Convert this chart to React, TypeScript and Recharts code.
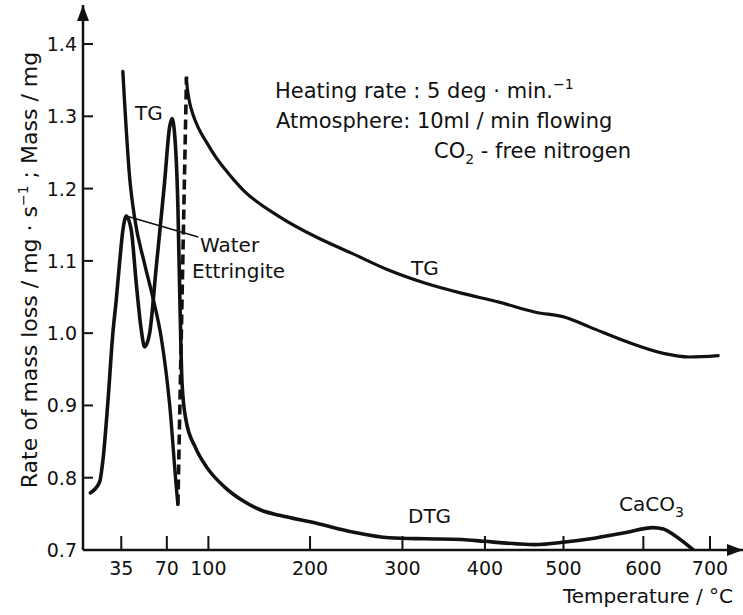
import { LineChart, Line, XAxis, YAxis, ReferenceLine } from "recharts";

// The temperature axis of the original figure is not linear, so every
// temperature is placed through this table (axis units: 0..1000 = whole axis).
const AXIS_TEMPS = [20, 35, 70, 100, 200, 300, 400, 500, 600, 700];
const AXIS_UNITS = [0, 58, 127, 190, 344, 484, 609, 728, 849, 950];

const X_TICKS = [35, 70, 100, 200, 300, 400, 500, 600, 700];
const Y_TICKS = [0.7, 0.8, 0.9, 1.0, 1.1, 1.2, 1.3, 1.4];

// DTG, rate of mass loss
const DTG_T = [22.9, 26.5, 27.8, 29.8, 31.7, 33.0, 34.3, 36.2, 38.8, 42.7, 46.5, 50.4, 52.9, 56.7, 61.9, 68.2, 72.0, 73.7, 75.6, 78.0, 79.6, 81.0, 83.9, 90.6, 98.6, 116, 134, 152, 170, 207, 246, 286, 328, 372, 399, 441, 464, 502, 534, 580, 614, 630, 647, 675];
const DTG_V = [0.779, 0.794, 0.824, 0.907, 1.0, 1.045, 1.096, 1.142, 1.162, 1.142, 1.069, 1.004, 0.981, 0.999, 1.092, 1.207, 1.285, 1.297, 1.276, 1.175, 1.03, 0.93, 0.879, 0.842, 0.815, 0.787, 0.768, 0.755, 0.748, 0.737, 0.725, 0.717, 0.7155, 0.7145, 0.712, 0.7085, 0.7075, 0.711, 0.7155, 0.7245, 0.731, 0.729, 0.72, 0.7];

// TG, first (steep) part
const TG_LOW_T = [36.2, 41.4, 45.2, 52.9, 59.3, 65.7, 72.0, 77.3, 78.0];
const TG_LOW_V = [1.362, 1.216, 1.16, 1.096, 1.049, 0.994, 0.902, 0.777, 0.763];

// dashed connector between the two TG parts
const TG_JOIN_T = [78.0, 84.2];
const TG_JOIN_V = [0.763, 1.355];

// TG, main curve
const TG_T = [84.0, 85.1, 86.6, 88.8, 92.5, 98.7, 106.6, 116.2, 134.2, 170.1, 206.7, 246.1, 285.5, 328.1, 372.5, 417.9, 464.5, 501.8, 533.8, 579.5, 630.1, 668.5, 712.3];
const TG_V = [1.352, 1.334, 1.318, 1.303, 1.285, 1.264, 1.245, 1.227, 1.198, 1.161, 1.133, 1.11, 1.087, 1.069, 1.055, 1.043, 1.029, 1.022, 1.008, 0.988, 0.972, 0.967, 0.969];

const INK = "#111";
const FONT = "'DejaVu Sans', sans-serif";

function toAxis(t: number) {
  let i = 0;
  while (i < AXIS_TEMPS.length - 2 && t > AXIS_TEMPS[i + 1]) i++;
  const t0 = AXIS_TEMPS[i];
  const t1 = AXIS_TEMPS[i + 1];
  const u0 = AXIS_UNITS[i];
  const u1 = AXIS_UNITS[i + 1];
  return u0 + ((t - t0) * (u1 - u0)) / (t1 - t0);
}

const toPoints = (ts: number[], vs: number[]) =>
  ts.map((t, i) => ({ x: toAxis(t), v: vs[i] }));

const dtg = toPoints(DTG_T, DTG_V);
const tgLow = toPoints(TG_LOW_T, TG_LOW_V);
const tgJoin = toPoints(TG_JOIN_T, TG_JOIN_V);
const tg = toPoints(TG_T, TG_V);

const XTick = (props: any) => {
  const { x, y, index } = props;
  return (
    <g>
      <line x1={x} y1={y} x2={x} y2={y - 14} stroke={INK} strokeWidth={2} />
      <text x={x} y={y + 25} textAnchor="middle" fontSize={19} fill={INK} fontFamily={FONT}>
        {X_TICKS[index]}
      </text>
    </g>
  );
};

const YTick = (props: any) => {
  const { x, y, payload } = props;
  return (
    <g>
      <line x1={x} y1={y} x2={x + 10} y2={y} stroke={INK} strokeWidth={2} />
      <text x={x - 6} y={y + 7} textAnchor="end" fontSize={19} fill={INK} fontFamily={FONT}>
        {Number(payload.value).toFixed(1)}
      </text>
    </g>
  );
};

const txt = { fill: INK, fontFamily: FONT, fontSize: 21 };

export default function App() {
  return (
    <div style={{ position: "absolute", left: 0, top: 0, width: 743, height: 615, background: "#fff" }}>
      <LineChart width={743} height={615} margin={{ top: 5, right: 0, left: 0, bottom: 0 }}>
        <defs>
          <marker
            id="axisArrow"
            viewBox="0 0 16 12"
            refX={16}
            refY={6}
            markerWidth={16}
            markerHeight={12}
            markerUnits="userSpaceOnUse"
            orient="auto-start-reverse"
          >
            <path d="M0,0 L16,6 L0,12 z" fill={INK} />
          </marker>
        </defs>
        <XAxis
          dataKey="x"
          type="number"
          domain={[0, 1000]}
          allowDataOverflow
          ticks={X_TICKS.map(toAxis)}
          interval={0}
          height={65}
          tickSize={0}
          tickMargin={0}
          tickLine={false}
          tick={XTick}
          axisLine={{ stroke: INK, strokeWidth: 2.5, markerEnd: "url(#axisArrow)" }}
        />
        <YAxis
          dataKey="v"
          type="number"
          domain={[0.7, 1.454]}
          allowDataOverflow
          ticks={Y_TICKS}
          interval={0}
          width={83}
          tickSize={0}
          tickMargin={0}
          tickLine={false}
          tick={YTick}
          axisLine={{ stroke: INK, strokeWidth: 2.5, markerStart: "url(#axisArrow)" }}
        />
        <ReferenceLine
          segment={[
            { x: toAxis(38.8), y: 1.162 },
            { x: toAxis(92.7), y: 1.133 },
          ]}
          stroke={INK}
          strokeWidth={1.6}
          ifOverflow="visible"
        />
        <Line data={dtg} dataKey="v" type="monotone" stroke={INK} strokeWidth={3.6} dot={false} isAnimationActive={false} strokeLinecap="round" />
        <Line data={tgLow} dataKey="v" type="monotone" stroke={INK} strokeWidth={3.4} dot={false} isAnimationActive={false} strokeLinecap="round" />
        <Line data={tgJoin} dataKey="v" type="linear" stroke={INK} strokeWidth={3.6} strokeDasharray="10 5" dot={false} isAnimationActive={false} />
        <Line data={tg} dataKey="v" type="monotone" stroke={INK} strokeWidth={3.2} dot={false} isAnimationActive={false} strokeLinecap="round" />

        <text {...txt} x={275} y={98}>
          Heating rate : 5 deg · min.
          <tspan fontSize={14} dy={-9}>−1</tspan>
        </text>
        <text {...txt} x={276} y={128}>Atmosphere: 10ml / min flowing</text>
        <text {...txt} x={434} y={158}>
          CO<tspan fontSize={14} dy={6}>2</tspan>
          <tspan dy={-6}> - free nitrogen</tspan>
        </text>

        <text {...txt} fontSize={20} x={135} y={120}>TG</text>
        <text {...txt} fontSize={20} x={411} y={275}>TG</text>
        <text {...txt} fontSize={20} x={408} y={523}>DTG</text>
        <text {...txt} fontSize={20} x={200} y={252}>Water</text>
        <text {...txt} fontSize={20} x={192} y={278}>Ettringite</text>
        <text {...txt} fontSize={20} x={619} y={511}>
          CaCO<tspan fontSize={14} dy={6}>3</tspan>
        </text>

        <text {...txt} fontSize={20} x={733} y={603} textAnchor="end">Temperature / °C</text>
        <text {...txt} fontSize={22} x={37} y={270} textAnchor="middle" transform="rotate(-90, 37, 270)">
          Rate of mass loss / mg · s<tspan fontSize={14} dy={-9}>−1</tspan>
          <tspan dy={9}> ;   Mass / mg</tspan>
        </text>
      </LineChart>
    </div>
  );
}
